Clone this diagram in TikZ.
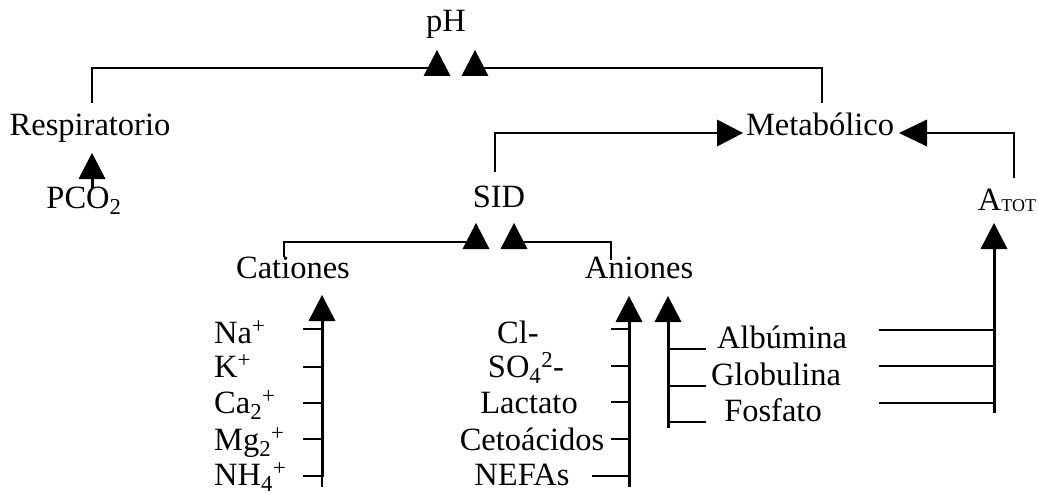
\documentclass[tikz,border=0pt]{standalone}
\usepackage{fontspec}
\setmainfont{Liberation Serif}
\begin{document}
\begin{tikzpicture}[x=1pt,y=-1pt,
  lbl/.style={inner sep=0pt,font=\fontsize{32.5}{36}\selectfont},
  thin/.style={line width=1.3pt},
  mid/.style={line width=2pt},
  thick/.style={line width=3pt},
  tri up/.pic={\fill (0,0) -- (13.5,26) -- (-13.5,26) -- cycle;},
  tri right/.pic={\fill (0,0) -- (-26,-13.5) -- (-26,13.5) -- cycle;},
  tri left/.pic={\fill (0,0) -- (28,-13.5) -- (28,13.5) -- cycle;}]
\useasboundingbox (0,0) rectangle (1039,495);

% ---- labels ----
\node[lbl,anchor=base] (ph)   at (446,32)  {pH};
\node[lbl,anchor=base] (resp) at (90,135)  {Respiratorio};
\node[lbl,anchor=base] (pco2) at (84,208)  {PCO\textsubscript{2}};
\node[lbl,anchor=base] (meta) at (820,135) {Metabólico};
\node[lbl,anchor=base] (sid)  at (499,207) {SID};
\node[lbl,anchor=base] (atot) at (1007,210) {A\raisebox{-1pt}{\fontsize{18}{18}\selectfont TOT}};
\node[lbl,anchor=base] (cat)  at (293,278) {Cationes};
\node[lbl,anchor=base] (ani)  at (639,278) {Aniones};

\node[lbl,anchor=base west] (na)  at (214,343) {Na\textsuperscript{+}};
\node[lbl,anchor=base west] (k)   at (214,377) {K\textsuperscript{+}};
\node[lbl,anchor=base west] (ca)  at (214,413) {Ca\textsubscript{2}\textsuperscript{+}};
\node[lbl,anchor=base west] (mg)  at (214,450) {Mg\textsubscript{2}\textsuperscript{+}};
\node[lbl,anchor=base west] (nh4) at (214,485) {NH\textsubscript{4}\textsuperscript{+}};

\node[lbl,anchor=base] (cl)   at (518,343) {Cl-};
\node[lbl,anchor=base] (so4)  at (526,377) {SO\textsubscript{4}\textsuperscript{2}-};
\node[lbl,anchor=base] (lac)  at (529,413) {Lactato};
\node[lbl,anchor=base] (ceto) at (532,450) {Cetoácidos};
\node[lbl,anchor=base] (nefa) at (522,485) {NEFAs};

\node[lbl,anchor=base] (alb)  at (782,348) {Albúmina};
\node[lbl,anchor=base] (glob) at (776,385) {Globulina};
\node[lbl,anchor=base] (fos)  at (773,421) {Fosfato};

% ---- junction points ----
\coordinate (respTop) at (92,103);
\coordinate (metaTop) at (822,103);
\coordinate (phL) at (437,68);
\coordinate (phR) at (475,68);
\coordinate (sidTop) at (495,172);
\coordinate (metaL) at (717,133);
\coordinate (atotTop) at (1014,178);
\coordinate (metaR) at (927,133);
\coordinate (catTop) at (284,257);
\coordinate (aniTop) at (611,260);
\coordinate (sidL) at (476,242);
\coordinate (sidR) at (514,242);

% ---- pH branches ----
\draw[mid] (respTop) |- (phL);
\draw[mid] (metaTop) |- (phR);
\pic at (437,50) {tri up};
\pic at (475,50) {tri up};

% ---- PCO2 to Respiratorio ----
\draw[thick] (92,188) -- (92,175);
\pic at (92,153) {tri up};

% ---- SID and ATOT to Metabólico ----
\draw[mid] (sidTop) |- (metaL);
\pic at (743,133) {tri right};
\draw[mid] (atotTop) |- (metaR);
\pic at (899,133) {tri left};

% ---- Cationes / Aniones to SID ----
\draw[thin] (catTop) |- (sidL);
\draw[thin] (aniTop) |- (sidR);
\pic at (476,223) {tri up};
\pic at (514,223) {tri up};

% ---- cation collector ----
\draw[thick] (322,477) -- (322,318);
\draw[thin] (322,476) -- (322,487);
\pic at (322,295) {tri up};
\foreach \y in {329,367,403,439,476}
  \draw[mid] (303,\y) -- (322,\y);

% ---- anion collector ----
\draw[thick] (629,487) -- (629,318);
\pic at (629,296) {tri up};
\foreach \y in {329,366,402,439}
  \draw[mid] (611,\y) -- (629,\y);
\draw[mid] (592,476) -- (629,476);

% ---- weak acids to Aniones ----
\draw[thick] (668,428) -- (668,318);
\pic at (668,296) {tri up};
\foreach \y in {349,386,422}
  \draw[mid] (668,\y) -- (706,\y);

% ---- weak acids to ATOT ----
\draw[thick] (994,413) -- (994,245);
\pic at (994,223) {tri up};
\foreach \y in {330,366,403}
  \draw[mid] (879,\y) -- (994,\y);
\end{tikzpicture}
\end{document}
